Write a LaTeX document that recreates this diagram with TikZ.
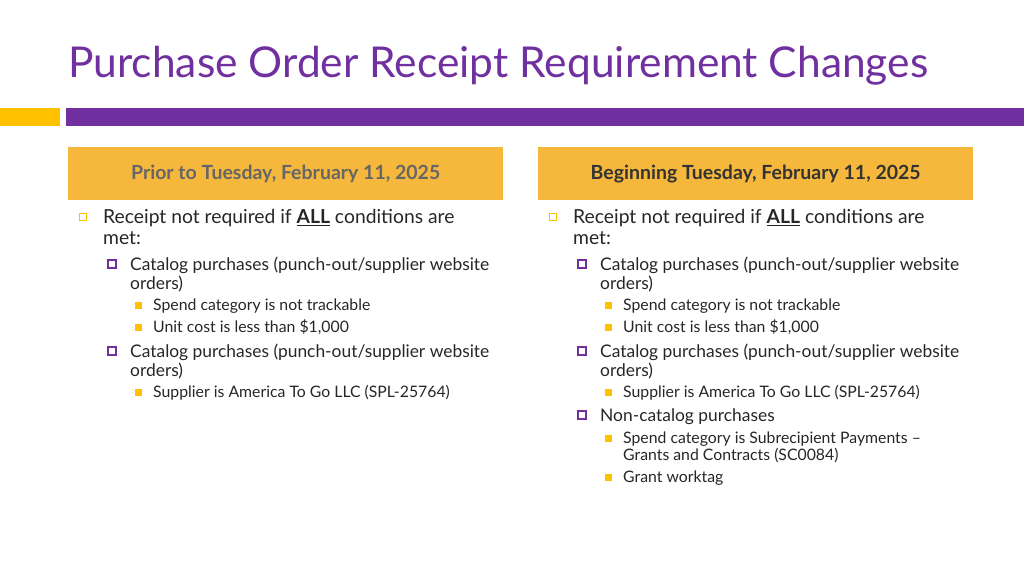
\documentclass[tikz,border=0pt]{standalone}
\usepackage{fontspec}
\setmainfont{Lato}
\definecolor{pur}{HTML}{7030A0}
\definecolor{yel}{HTML}{FFC000}
\definecolor{hdr}{HTML}{F5B83D}
\definecolor{txt}{HTML}{262626}
\begin{document}
\begin{tikzpicture}[x=1pt,y=-1pt,
  lone/.style={anchor=base west,inner sep=0,font=\fontsize{19.3}{22}\selectfont,text=txt},
  ltwo/.style={anchor=base west,inner sep=0,font=\fontsize{17.4}{20}\selectfont,text=txt},
  lthree/.style={anchor=base west,inner sep=0,font=\fontsize{15.8}{18}\selectfont,text=txt},
  bone/.style={draw=yel,line width=1pt,minimum size=7pt,inner sep=0},
  btwo/.style={draw=pur,line width=2pt,minimum size=8pt,inner sep=0},
  bthree/.style={fill=yel,minimum size=7pt,inner sep=0},
  hbox/.style={fill=hdr,minimum width=435pt,minimum height=53pt,anchor=north west,inner sep=0,font=\bfseries\fontsize{19.5}{22}\selectfont}]
\useasboundingbox (0,0) rectangle (1024,576);
\node[anchor=base west,inner sep=0,text=pur,font=\fontsize{42.5}{48}\selectfont] (title) at (68,77) {Purchase Order Receipt Requirement Changes};
\fill[yel] (0,108) rectangle (60,126);
\fill[pur] (66,108) rectangle (1024,126);
\node[hbox,text=black!60] (h1) at (68,147) {Prior to Tuesday, February 11, 2025};
\node[hbox,text=black!80] (h2) at (538,147) {Beginning Tuesday, February 11, 2025};
\foreach \dx/\nm in {0/L,470/R}{
  \begin{scope}[xshift=\dx]
  \node[bone] (\nm b1) at (83,217) {};
  \node[lone] (\nm t1) at (103,223.5) {Receipt not required if \textbf{\underline{ALL}} conditions are};
  \node[lone] (\nm t1b) at (103,244.5) {met:};
  \node[btwo] (\nm b2) at (112,264) {};
  \node[ltwo] (\nm t2) at (130,270) {Catalog purchases (punch-out/supplier website};
  \node[ltwo] (\nm t2b) at (130,289) {orders)};
  \node[bthree] (\nm b3) at (138,305) {};
  \node[lthree] (\nm t3) at (153,310.5) {Spend category is not trackable};
  \node[bthree] (\nm b4) at (138,327) {};
  \node[lthree] (\nm t4) at (153,332.5) {Unit cost is less than \$1,000};
  \node[btwo] (\nm b5) at (112,351) {};
  \node[ltwo] (\nm t5) at (130,357) {Catalog purchases (punch-out/supplier website};
  \node[ltwo] (\nm t5b) at (130,376) {orders)};
  \node[bthree] (\nm b6) at (138,392) {};
  \node[lthree] (\nm t6) at (153,397.5) {Supplier is America To Go LLC (SPL-25764)};
  \end{scope}}
\begin{scope}[xshift=470]
  \node[btwo] (b7) at (112,415) {};
  \node[ltwo] (t7) at (130,421) {Non-catalog purchases};
  \node[bthree] (b8) at (138,438) {};
  \node[lthree] (t8) at (153,443.5) {Spend category is Subrecipient Payments –};
  \node[lthree] (t8b) at (153,460.5) {Grants and Contracts (SC0084)};
  \node[bthree] (b9) at (138,477) {};
  \node[lthree] (t9) at (153,482.5) {Grant worktag};
\end{scope}
\end{tikzpicture}
\end{document}
